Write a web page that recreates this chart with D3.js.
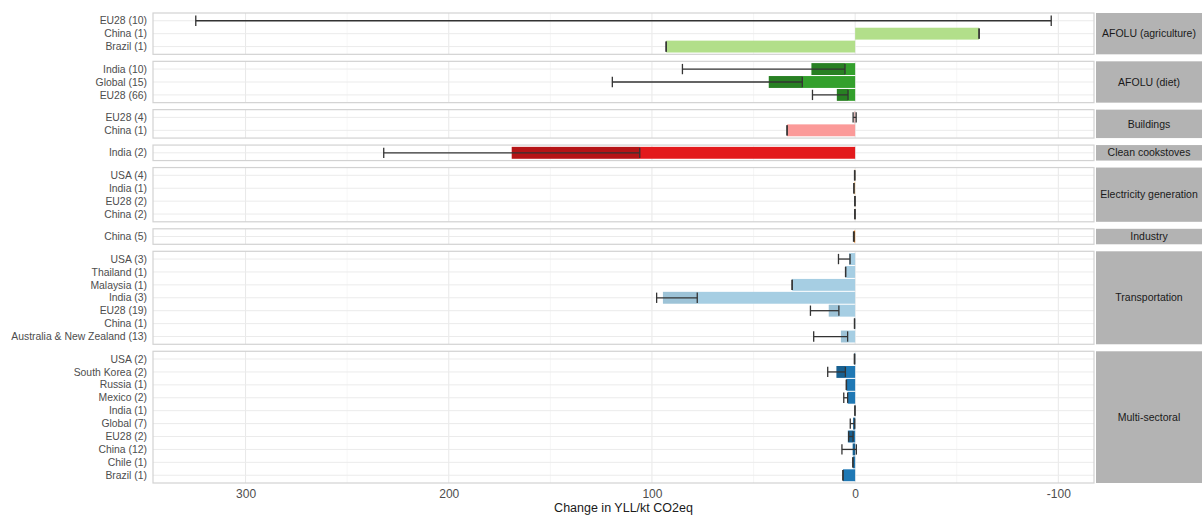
<!DOCTYPE html>
<html><head><meta charset="utf-8">
<script src="https://cdn.jsdelivr.net/npm/d3@7"></script>
<style>body{margin:0;background:#fff;} svg{display:block;font-family:"Liberation Sans",Arial,sans-serif;}</style>
</head><body>
<svg id="c" width="1202" height="515"></svg>
<script>
// ---- data ----
const sectors = ["AFOLU (agriculture)","AFOLU (diet)","Buildings","Clean cookstoves","Electricity generation","Industry","Transportation","Multi-sectoral"];
const sectorColors = ["#b2df8a","#33a02c","#fb9a99","#e31a1c","#fdbf6f","#ff7f00","#a6cee3","#1f78b4"];
const sectorShade = [0.2,0.2,0.2,0.2,0.2,0.2,0.05,0.2];
const rowSector = [0,0,0, 1,1,1, 2,2, 3, 4,4,4,4, 5, 6,6,6,6,6,6,6, 7,7,7,7,7,7,7,7,7,7];
const rowLabel = ["EU28 (10)","China (1)","Brazil (1)",
  "India (10)","Global (15)","EU28 (66)",
  "EU28 (4)","China (1)",
  "India (2)",
  "USA (4)","India (1)","EU28 (2)","China (2)",
  "China (5)",
  "USA (3)","Thailand (1)","Malaysia (1)","India (3)","EU28 (19)","China (1)","Australia & New Zealand (13)",
  "USA (2)","South Korea (2)","Russia (1)","Mexico (2)","India (1)","Global (7)","EU28 (2)","China (12)","Chile (1)","Brazil (1)"];
const rowValue = [0,-61,93, 21.5,42.5,9, 0.3,33.5, 169, 0.2,0.6,0.1,0.1, 0.6, 3,4.7,31,94.6,13,0.3,7, 0.3,9.2,4.3,3.7,0.1,1,3.6,1.2,1.1,6];
const rowLow   = [-96.5,-61,93, 5,26,3.5, -0.5,33.5, 106, 0.1,0.6,0,0, 0.5, 2.5,4.7,31,77.7,8,0.3,3.7, 0.2,4.8,4.3,3.7,0.1,0.2,1,-0.6,1.1,6];
const rowHigh  = [324.5,-61,93, 85,119.5,21, 1,33.5, 232, 0.3,0.6,0.2,0.2, 0.8, 8.2,4.7,31,97.7,22,0.3,20.4, 0.4,13.5,4.3,5.6,0.1,2.4,3.2,6.5,1.1,6];
const xTicks = [300,200,100,0,-100];
const xMinor = [250,150,50,-50];
const xTitle = "Change in YLL/kt CO2eq";

// ---- layout ----
const svg = d3.select("#c");
const L = 153, R = 1094, T = 13, B = 483, gap = 7, stripX = 1096, stripW = 106;
const rows = rowLabel.map((l,i)=>({label:l, sector:rowSector[i], v:rowValue[i], lo:rowLow[i], hi:rowHigh[i]}));
const allV = rows.flatMap(r=>[r.v,r.lo,r.hi,0]);
const vmax = d3.max(allV), vmin = d3.min(allV), ex = (vmax - vmin)*0.05;
const x = d3.scaleLinear().domain([vmax+ex, vmin-ex]).range([L, R]);

const counts = sectors.map((s,i)=>rows.filter(r=>r.sector===i).length);
const units = d3.sum(counts, n=>n+0.2);
const unit = (B - T - gap*(sectors.length-1))/units;

let y0 = T;
sectors.forEach((s, si) => {
  const pr = rows.filter(r=>r.sector===si);
  const h = (pr.length+0.2)*unit;
  const y = d3.scalePoint().domain(pr.map(r=>r.label)).range([y0, y0+h]).padding(0.6);
  if (pr.length===1) y.padding(0.5);
  const g = svg.append("g");
  g.append("rect").attr("x",L).attr("y",y0).attr("width",R-L).attr("height",h).attr("fill","#fff");
  g.selectAll(".mn").data(xMinor).join("line").attr("x1",d=>x(d)).attr("x2",d=>x(d)).attr("y1",y0).attr("y2",y0+h).attr("stroke","#f4f4f4").attr("stroke-width",0.8);
  g.selectAll(".mj").data(xTicks).join("line").attr("x1",d=>x(d)).attr("x2",d=>x(d)).attr("y1",y0).attr("y2",y0+h).attr("stroke","#e8e8e8").attr("stroke-width",1);
  g.selectAll(".hg").data(pr).join("line").attr("x1",L).attr("x2",R).attr("y1",d=>y(d.label)).attr("y2",d=>y(d.label)).attr("stroke","#ebebeb").attr("stroke-width",1);
  const bw = unit*0.92;
  g.selectAll(".bar").data(pr).join("rect")
    .attr("x",d=>Math.min(x(0),x(d.v))).attr("width",d=>Math.abs(x(d.v)-x(0)))
    .attr("y",d=>y(d.label)-bw/2).attr("height",bw).attr("fill",sectorColors[si]);
  // shade where the error range overlaps the bar
  g.selectAll(".ov").data(pr.filter(d=>d.hi>d.lo)).join("rect")
    .attr("x",d=>x(Math.min(d.hi,Math.max(0,d.v))))
    .attr("width",d=>{const a=Math.max(d.lo,Math.min(0,d.v)), b=Math.min(d.hi,Math.max(0,d.v)); return b>a? x(a)-x(b):0;})
    .attr("y",d=>y(d.label)-bw/2).attr("height",bw).attr("fill","#000").attr("opacity",sectorShade[si]);
  const cap = unit*0.8;
  const eb = g.selectAll(".eb").data(pr).join("g").attr("stroke","#333").attr("stroke-width",1.3);
  eb.append("line").attr("x1",d=>x(d.lo)).attr("x2",d=>x(d.hi)).attr("y1",d=>y(d.label)).attr("y2",d=>y(d.label));
  eb.append("line").attr("x1",d=>x(d.lo)).attr("x2",d=>x(d.lo)).attr("y1",d=>y(d.label)-cap/2).attr("y2",d=>y(d.label)+cap/2);
  eb.append("line").attr("x1",d=>x(d.hi)).attr("x2",d=>x(d.hi)).attr("y1",d=>y(d.label)-cap/2).attr("y2",d=>y(d.label)+cap/2);
  g.append("rect").attr("x",L).attr("y",y0).attr("width",R-L).attr("height",h).attr("fill","none").attr("stroke","#d2d2d2").attr("stroke-width",1.2);
  g.selectAll(".yl").data(pr).join("text").attr("x",L-6).attr("y",d=>y(d.label)).attr("dy","0.35em")
    .attr("text-anchor","end").attr("font-size",10.4).attr("fill","#4d4d4d").text(d=>d.label);
  g.append("rect").attr("x",stripX).attr("y",y0).attr("width",stripW).attr("height",h).attr("fill","#b3b3b3");
  g.append("text").attr("x",stripX+stripW/2).attr("y",y0+h/2).attr("dy","0.35em").attr("text-anchor","middle")
    .attr("font-size",10.5).attr("fill","#1a1a1a").text(s);
  y0 += h + gap;
});

const ax = svg.append("g").attr("transform",`translate(0,${B})`)
  .call(d3.axisBottom(x).tickValues(xTicks).tickSize(0).tickPadding(6).tickFormat(d=>String(d)));
ax.select(".domain").remove();
ax.selectAll("text").attr("font-size",12).attr("fill","#4d4d4d").attr("font-family","Liberation Sans, Arial, sans-serif");
svg.append("text").attr("x",(L+R)/2).attr("y",512).attr("text-anchor","middle").attr("font-size",12.5).attr("fill","#1a1a1a").text(xTitle);
</script>
</body></html>
